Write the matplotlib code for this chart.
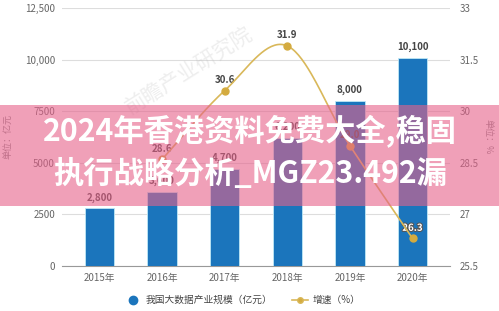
import numpy as np
import matplotlib
matplotlib.use('Agg')
import matplotlib.pyplot as plt
import matplotlib.patheffects as pe
from matplotlib.patches import Rectangle
from matplotlib.lines import Line2D

plt.rcParams['font.family'] = ['Noto Sans CJK SC', 'DejaVu Sans']

# data
years = ['2015年', '2016年', '2017年', '2018年', '2019年', '2020年']
scale = [2800, 3600, 4700, 6200, 8000, 10100]
scale_labels = ['2,800', '3,600', '4,700', '6,200', '8,000', '10,100']
growth_years = [1, 2, 3, 4, 5]
growth = [28.6, 30.6, 31.9, 29.0, 26.3]
left_ticks = [0, 2500, 5000, 7500, 10000, 12500]
left_tick_labels = ['0', '2500', '5000', '7500', '10,000', '12,500']
right_ticks = [25.5, 27, 28.5, 30, 31.5, 33]
right_tick_labels = ['25.5', '27', '28.5', '30', '31.5', '33']
banner = ['2024年香港资料免费大全,稳固', '执行战略分析_MGZ23.492漏']


def smooth(xs, ys, n=40):
    # cubic hermite through the points, catmull-rom style tangents
    xs = np.asarray(xs, float)
    ys = np.asarray(ys, float)
    m = np.gradient(ys, xs)
    sx, sy = [], []
    for i in range(len(xs) - 1):
        h = xs[i + 1] - xs[i]
        t = np.linspace(0, 1, n)
        h00 = 2 * t**3 - 3 * t**2 + 1
        h10 = t**3 - 2 * t**2 + t
        h01 = -2 * t**3 + 3 * t**2
        h11 = t**3 - t**2
        sx.append(xs[i] + t * h)
        sy.append(h00 * ys[i] + h10 * h * m[i] + h01 * ys[i + 1] + h11 * h * m[i + 1])
    return np.concatenate(sx), np.concatenate(sy)


fig = plt.figure(figsize=(4.99, 3.11), dpi=100)
ax = fig.add_axes([0.124, 0.145, 0.778, 0.829])
ax2 = ax.twinx()

x = np.arange(len(years))
blue = '#1b75bc'
gold = '#d9b85a'

ax.bar(x, scale, width=0.47, color=blue, edgecolor='#bfe8f5', linewidth=0.6, zorder=3)
for xi, v, lab in zip(x, scale, scale_labels):
    ax.annotate(lab, (xi, v), xytext=(0, 4), textcoords='offset points',
                ha='center', va='bottom', fontsize=7, fontweight='bold', color='#444444')

ax.set_xlim(-0.6, 5.6)
ax.set_ylim(0, 12500)
ax.set_yticks(left_ticks)
ax.set_yticklabels(left_tick_labels)
ax.set_xticks(x)
ax.set_xticklabels(years)
ax.yaxis.grid(True, color='#dddddd', linewidth=0.8, zorder=0)
ax.set_axisbelow(True)
for s in ['top', 'left', 'right']:
    ax.spines[s].set_visible(False)
ax.spines['bottom'].set_color('#999999')
ax.tick_params(axis='both', length=0, labelsize=7, labelcolor='#666666')
ax.tick_params(axis='y', pad=5)
ax.tick_params(axis='x', pad=5)

sx, sy = smooth(growth_years, growth)
ax2.plot(sx, sy, color=gold, linewidth=1.2, zorder=4)
ax2.plot(growth_years, growth, 'o', color='#d4ab3f', markersize=5, zorder=5)
for xi, v in zip(growth_years, growth):
    if xi == 5:
        ax2.annotate(f'{v:.1f}', (xi, v), xytext=(0, 4), textcoords='offset points',
                     ha='center', va='bottom', fontsize=7, fontweight='bold', color='white',
                     path_effects=[pe.withStroke(linewidth=1.5, foreground='#555555')])
    else:
        ax2.annotate(f'{v:.1f}', (xi, v), xytext=(0, 4), textcoords='offset points',
                     ha='center', va='bottom', fontsize=7, fontweight='bold', color='#444444')
ax2.set_ylim(25.5, 33)
ax2.set_yticks(right_ticks)
ax2.set_yticklabels(right_tick_labels)
for s in ['top', 'left', 'right', 'bottom']:
    ax2.spines[s].set_visible(False)
ax2.tick_params(axis='y', length=0, labelsize=7, labelcolor='#666666', pad=7)

fig.text(0.016, 0.56, '单位：亿元', rotation=90, fontsize=6.5, color='#888888',
         ha='center', va='center')
fig.text(0.978, 0.56, '单位：%', rotation=270, fontsize=6.5, color='#888888',
         ha='center', va='center')

# faint watermark
fig.text(0.38, 0.77, '前瞻产业研究院', rotation=32, fontsize=15, color='#bbbbbb',
         alpha=0.25, ha='center', va='center', zorder=1)

handles = [Line2D([], [], marker='o', linestyle='none', color=blue, markersize=6),
           Line2D([], [], marker='o', color=gold, markerfacecolor='#d4ab3f',
                  markersize=4, linewidth=1.2)]
fig.legend(handles, ['我国大数据产业规模（亿元）', '增速（%）'], loc='center',
           bbox_to_anchor=(0.487, 0.035), ncol=2, frameon=False, fontsize=7,
           handlelength=1.6, columnspacing=2.0, handletextpad=0.5, labelcolor='#444444')

# pink banner across the middle
fig.patches.append(Rectangle((0, 0.338), 1, 0.324, transform=fig.transFigure,
                             facecolor='#e6618a', alpha=0.6, edgecolor='none', zorder=10))
fig.text(0.501, 0.576, banner[0], ha='center', va='center', fontsize=21.8,
         fontweight='bold', color='white', zorder=11)
fig.text(0.501, 0.44, banner[1], ha='center', va='center', fontsize=21.8,
         fontweight='bold', color='white', zorder=11)

fig.savefig('out.png', dpi=100)
